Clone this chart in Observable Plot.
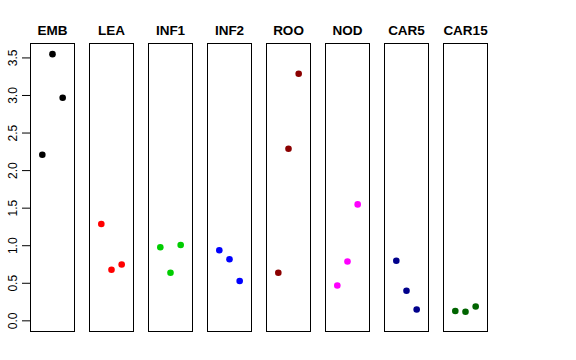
<!DOCTYPE html>
<html>
<head>
<meta charset="utf-8">
<script src="https://cdn.jsdelivr.net/npm/d3@7"></script>
<script src="https://cdn.jsdelivr.net/npm/@observablehq/plot@0.6"></script>
<style>
  html, body { margin: 0; padding: 0; background: #fff; }
  svg { display: block; }
</style>
</head>
<body>
<div id="chart"></div>
<script>
const categories = ["EMB", "LEA", "INF1", "INF2", "ROO", "NOD", "CAR5", "CAR15"];
const colors = ["#000000", "#FF0000", "#00CD00", "#0000FF", "#8B0000", "#FF00FF", "#00008B", "#006400"];
const rep1 = [2.21, 1.29, 0.98, 0.94, 0.64, 0.47, 0.80, 0.13];
const rep2 = [3.55, 0.68, 0.64, 0.82, 2.29, 0.79, 0.40, 0.12];
const rep3 = [2.97, 0.75, 1.01, 0.53, 3.29, 1.55, 0.15, 0.19];
const yTicks = [0, 0.5, 1, 1.5, 2, 2.5, 3, 3.5];

const data = [];
categories.forEach((c, i) => {
  [rep1, rep2, rep3].forEach((rep, j) => {
    data.push({cat: c, x: j + 1, y: rep[i], color: colors[i]});
  });
});

// R-style 4% axis extension
const ext = (lo, hi) => { const d = (hi - lo) * 0.04; return [lo - d, hi + d]; };
const yMax = d3.max(data, d => d.y);

const chart = Plot.plot({
  width: 576,
  height: 360,
  marginLeft: 29,
  marginRight: 88,
  marginTop: 43,
  marginBottom: 29,
  style: {fontFamily: "'Liberation Sans', Arial, Helvetica, sans-serif", fontSize: "12px", color: "#000", background: "#fff"},
  fx: {domain: categories, paddingInner: 0.246, paddingOuter: 0, label: null},
  x: {domain: ext(0, 4), axis: null},
  y: {domain: ext(0, yMax), label: null},
  marks: [
    Plot.frame({stroke: "#000", strokeWidth: 1}),
    Plot.axisFx({anchor: "top", tickSize: 0, tickPadding: 9, fontWeight: "bold", fontSize: 13.5, label: null}),
    Plot.axisY({ticks: yTicks, tickFormat: d3.format(".1f"), tickSize: 8, tickPadding: 6, tickRotate: -90, fontSize: 12, label: null}),
    Plot.dot(data, {fx: "cat", x: "x", y: "y", r: 3.3, fill: "color", stroke: "none"})
  ]
});
document.getElementById("chart").appendChild(chart);
</script>
</body>
</html>
